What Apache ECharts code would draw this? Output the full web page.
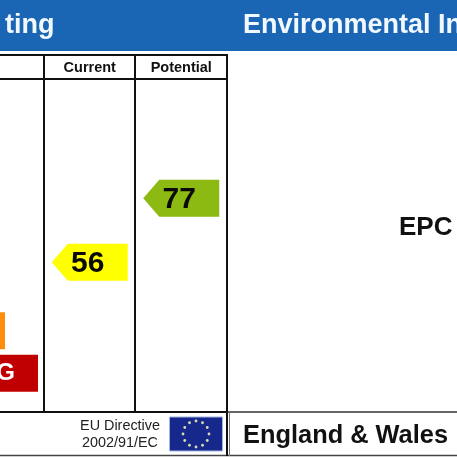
<!DOCTYPE html>
<html><head><meta charset="utf-8">
<style>html,body{margin:0;padding:0;background:#fff}#c{width:457px;height:457px}</style>
<script src="https://cdn.jsdelivr.net/npm/echarts@6/dist/echarts.min.js"></script>
</head><body><div id="c"></div>
<script>
const columns = ['Current', 'Potential'];
const ratings = [56, 77];
const arrowColors = ['#ffff00', '#8dba12'];
const bandLabels = ['F', 'G'];
const bandEnds = [5, 38];
const bandColors = ['#ff8c0a', '#c00000'];
const FONT = '"Liberation Sans", Arial, sans-serif';

const chart = echarts.init(document.getElementById('c'), null, {renderer: 'canvas'});

function line(x1, y1, x2, y2, w, c) {
  return {type: 'line', z: 10, shape: {x1, y1, x2, y2}, style: {stroke: c || '#111', lineWidth: w || 2}};
}
function txt(text, x, y, size, fill, align) {
  return {type: 'text', z: 12, x, y, style: {text, font: 'bold ' + size + 'px ' + FONT, fill, align: align || 'left', verticalAlign: 'middle'}};
}
const stars = [];
for (let i = 0; i < 12; i++) {
  const a = i * Math.PI / 6;
  stars.push({type: 'circle', z: 13, shape: {cx: 196 + 13 * Math.sin(a), cy: 434 - 13 * Math.cos(a), r: 1.4}, style: {fill: '#d8dcb0'}});
}

chart.setOption({
  animation: false,
  backgroundColor: '#fff',
  grid: [
    {left: 44, width: 183, top: 79, height: 333},
    {left: 0, width: 100, top: 309.5, height: 85}
  ],
  xAxis: [
    {gridIndex: 0, type: 'category', data: columns, position: 'top', silent: true,
     axisLine: {show: false}, axisTick: {show: false},
     axisLabel: {show: true, margin: 4, color: '#111', fontWeight: 'bold', fontSize: 14.5, fontFamily: FONT}},
    {gridIndex: 1, type: 'value', min: 0, max: 100, show: false}
  ],
  yAxis: [
    {gridIndex: 0, type: 'value', min: 7, max: 116, show: false},
    {gridIndex: 1, type: 'category', data: bandLabels, inverse: true, show: false}
  ],
  series: [
    {
      type: 'custom', xAxisIndex: 0, yAxisIndex: 0, coordinateSystem: 'cartesian2d',
      data: ratings.map((v, i) => [i, v]),
      renderItem(params, api) {
        const p = api.coord([api.value(0), api.value(1)]);
        const L = p[0] - 38, R = p[0] + 38, H = 18.5, N = L + 16;
        const i = params.dataIndex;
        return {type: 'group', children: [
          {type: 'polygon', shape: {points: [[L, p[1]], [N, p[1] - H], [R, p[1] - H], [R, p[1] + H], [N, p[1] + H]]},
           style: {fill: arrowColors[i]}},
          {type: 'text', x: p[0] - 2, y: p[1] + 1.5, style: {text: String(ratings[i]), font: 'bold 30px ' + FONT, fill: '#0a0a0a', align: 'center', verticalAlign: 'middle'}}
        ]};
      }
    },
    {
      type: 'bar', xAxisIndex: 1, yAxisIndex: 1, barWidth: 37,
      data: bandEnds.map((v, i) => ({value: v, itemStyle: {color: bandColors[i]}})),
      label: {show: true, position: 'insideRight', distance: 23,
        formatter: p => p.name === 'G' ? 'G' : '', color: '#fff', fontWeight: 'bold', fontSize: 24, fontFamily: FONT}
    }
  ],
  graphic: [
    {type: 'rect', z: 5, shape: {x: 0, y: 0, width: 457, height: 51}, style: {fill: '#1a66b4'}},
    txt('ting', 5, 26, 27, '#f2f8ff'),
    txt('Environmental In', 243, 26, 27, '#f2f8ff'),
    line(0, 55, 228, 55), line(0, 79, 228, 79), line(0, 412, 228, 412),
    line(228, 412, 457, 412, 1.5, '#333'),
    line(0, 455.5, 457, 455.5, 1.5, '#444'),
    line(44, 55, 44, 412), line(135, 55, 135, 412), line(227, 55, 227, 456), line(229.5, 412, 229.5, 456, 1, '#777'),
    {type: 'rect', z: 11, shape: {x: 169.5, y: 417, width: 53, height: 34}, style: {fill: '#16288c', stroke: '#9fb4e0', lineWidth: 1}},
    ...stars,
    {type: 'text', z: 12, x: 160, y: 426, style: {text: 'EU Directive', font: '14.4px ' + FONT, fill: '#222', align: 'right', verticalAlign: 'middle'}},
    {type: 'text', z: 12, x: 158, y: 443, style: {text: '2002/91/EC', font: '14.4px ' + FONT, fill: '#222', align: 'right', verticalAlign: 'middle'}},
    txt('EPC', 399, 228, 26, '#111'),
    txt('England & Wales', 243, 435.5, 25.4, '#111')
  ]
});
</script></body></html>
